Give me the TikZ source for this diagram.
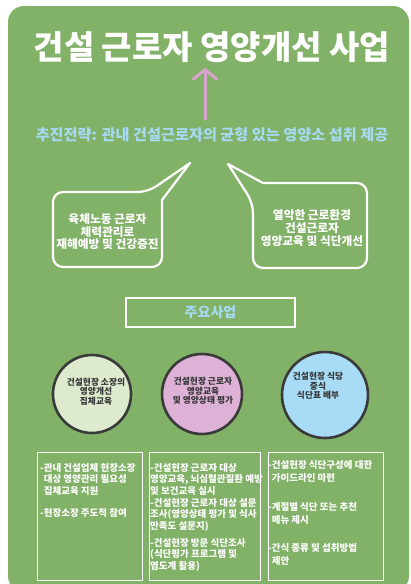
\documentclass[tikz,border=0pt]{standalone}
\usepackage{fontspec}
\newfontfamily\kr{Noto Sans CJK KR}
\usetikzlibrary{arrows.meta,calc}
\definecolor{bggreen}{RGB}{130,177,104}
\definecolor{skyt}{RGB}{166,217,242}
\definecolor{pinkarr}{RGB}{214,164,204}
\definecolor{cgreen}{RGB}{221,234,205}
\definecolor{cpink}{RGB}{221,178,214}
\definecolor{cblue}{RGB}{168,220,246}
\definecolor{cring}{RGB}{58,58,58}
\definecolor{ctext}{RGB}{55,55,55}
\begin{document}
\begin{tikzpicture}[x=1pt,y=-1pt,
  bubble/.style={draw=white, line width=2.2pt, line join=round},
  bubtext/.style={text=white, align=center, inner sep=0pt, font=\kr\bfseries\fontsize{11.7}{12.6}\selectfont},
  ring/.style={circle, draw=cring, line width=2.6pt, inner sep=0pt},
  ringtext/.style={text=ctext, align=center, inner sep=0pt, font=\kr\bfseries\fontsize{8.7}{9.6}\selectfont},
  listbox/.style={draw=white, line width=1.3pt, rectangle, inner sep=0pt, anchor=north west},
  listtext/.style={text=white, align=left, inner sep=0pt, anchor=north west, font=\kr\bfseries\fontsize{9.5}{11.5}\selectfont},
  listtextw/.style={listtext, font=\kr\bfseries\fontsize{9.5}{13}\selectfont}
]
\useasboundingbox (0,0) rectangle (411,584);
\begin{scope}
  \clip (0,0) rectangle (411,584);
  \fill[bggreen, rounded corners=16] (8,6) rectangle (409,592);
\end{scope}

% title and strategy
\node[text=white, font=\kr\bfseries\fontsize{33}{33}\selectfont, inner sep=1pt] (title) at (212,47) {건설 근로자 영양개선 사업};
\node[text=skyt, font=\kr\bfseries\fontsize{15.2}{15.5}\selectfont, inner sep=2pt] (strat) at (212,135) {추진전략: 관내 건설근로자의 균형 있는 영양소 섭취 제공};
\coordinate (ax) at (205,0);
\draw[pinkarr, line width=3pt, shorten <=6pt, shorten >=4pt, -{Straight Barb[length=10pt,width=25pt]}] (strat.north -| ax) -- (title.south -| ax);

% speech bubbles
\draw[bubble] (148,192) -- (190,163) -- (162,200) [rounded corners=10pt] -- (162,267) -- (53,267) -- (53,192) -- cycle;
\draw[bubble] (263,183) [rounded corners=10pt] -- (367,183) -- (367,268) -- (253,268) -- (253,203) [sharp corners] -- (228,164) -- cycle;
\node[bubtext] (bub1) at (107.5,232) {육체노동 근로자\\체력관리로\\재해예방 및 건강증진};
\node[bubtext] (bub2) at (312,228) {열악한 근로환경\\건설근로자\\영양교육 및 식단개선};

% main heading box
\node[draw=white, line width=2.5pt, minimum width=169pt, minimum height=29pt, text=skyt, font=\kr\bfseries\fontsize{14}{14}\selectfont] (main) at (210.5,312.5) {주요사업};

% circles
\node[ring, fill=cgreen, minimum size=78pt] (c1) at (92,394) {};
\node[ring, fill=cpink, minimum size=80pt] (c2) at (202,394) {};
\node[ring, fill=cblue, minimum size=86pt] (c3) at (325,395) {};
\node[ringtext] (t1) at (96,391.5) {건설현장 소장의\\영양개선\\집체교육};
\node[ringtext] (t2) at (203,391) {건설현장 근로자\\영양교육\\및 영양상태 평가};
\node[ringtext] (t3) at (318,386) {건설현장 식당\\중식\\식단표 배부};

% list boxes
\node[listbox, minimum width=105pt, minimum height=128pt] (box1) at (37,452) {};
\node[listbox, minimum width=111pt, minimum height=128pt] (box2) at (149,452) {};
\node[listbox, minimum width=115pt, minimum height=128pt] (box3) at (268,452) {};

\node[listtext] (p11) at (40,463) {-관내 건설업체 현장소장\\\phantom{-}대상 영양관리 필요성\\\phantom{-}집체교육 지원};
\node[listtext] (p12) at (40,508) {-현장소장 주도적 참여};

\node[listtext] (p21) at (150,463) {-건설현장 근로자 대상\\영양교육, 뇌심혈관질환 예방\\및 보건교육 실시};
\node[listtext] (p22) at (150,498) {-건설현장 근로자 대상 설문\\조사(영양상태 평가 및 식사\\만족도 설문지)};
\node[listtext] (p23) at (150,538) {-건설현장 방문 식단조사\\(식단평가 프로그램 및\\염도계 활용)};

\node[listtextw] (p31) at (268,460) {-건설현장 식단구성에 대한\\\phantom{-}가이드라인 마련};
\node[listtextw] (p32) at (268,502) {-계절별 식단 또는 추천\\\phantom{-}메뉴 제시};
\node[listtextw] (p33) at (268,543) {-간식 종류 및 섭취방법\\\phantom{-}제안};
\end{tikzpicture}
\end{document}
